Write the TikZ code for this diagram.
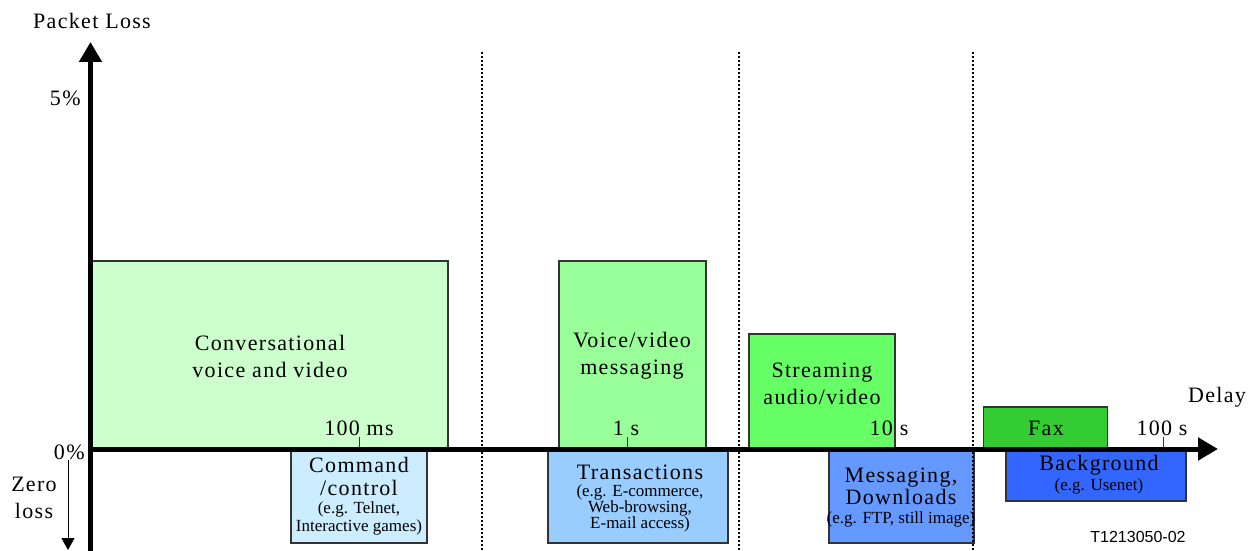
\documentclass[tikz,border=0pt]{standalone}
\usepackage{fontspec}
\setmainfont{Liberation Serif}
\newfontfamily\widef{Liberation Serif}[LetterSpace=6]
\newfontfamily\sansf{Liberation Sans}
\usetikzlibrary{arrows.meta}
\definecolor{cConv}{HTML}{CCFFCC}
\definecolor{cVoice}{HTML}{99FF99}
\definecolor{cStream}{HTML}{66FF66}
\definecolor{cFax}{HTML}{33CC33}
\definecolor{cCmd}{HTML}{CCECFF}
\definecolor{cTrans}{HTML}{99CCFF}
\definecolor{cMsg}{HTML}{6699FF}
\definecolor{cBack}{HTML}{3366FF}
\definecolor{cEdge}{HTML}{333333}
\begin{document}
\begin{tikzpicture}[x=0.5pt,y=-0.5pt,
  box/.style={draw=cEdge, line width=0.6pt, inner sep=0pt, anchor=center},
  big/.style={font=\widef\fontsize{11}{13.5}\selectfont, align=center, inner sep=0pt},
  small/.style={font=\fontsize{8.5}{8}\selectfont, align=center, inner sep=0pt},
  axis/.style={line width=2.5pt, -{Triangle[length=10pt,width=11pt]}},
  tickmark/.style={line width=0.5pt, draw=cEdge},
  sep/.style={line width=1pt, dash pattern=on 1pt off 1pt},
]
\useasboundingbox (0,0) rectangle (1259,551);

% boxes above the axis
\node[box, fill=cConv, minimum width=178pt, minimum height=94pt] (conv) at (270,355) {};
\node[box, fill=cVoice, minimum width=73.5pt, minimum height=94pt] (voice) at (632.5,355) {};
\node[box, fill=cStream, minimum width=73pt, minimum height=57.5pt] (stream) at (822,391.5) {};
\node[box, fill=cFax, minimum width=62pt, minimum height=21pt] (fax) at (1045.5,428) {};
% boxes below the axis
\node[box, fill=cCmd, minimum width=68pt, minimum height=46pt] (cmd) at (359,497) {};
\node[box, fill=cTrans, minimum width=90pt, minimum height=46pt] (trans) at (638,497) {};
\node[box, fill=cMsg, minimum width=72.5pt, minimum height=46pt] (msg) at (901.5,497) {};
\node[box, fill=cBack, minimum width=90pt, minimum height=25pt] (back) at (1096,476) {};

% separators
\coordinate (s1t) at (482,52); \coordinate (s1b) at (482,551);
\coordinate (s2t) at (739,52); \coordinate (s2b) at (739,551);
\coordinate (s3t) at (973,52); \coordinate (s3b) at (973,551);
\draw[sep] (s1t) -- (s1b);
\draw[sep] (s2t) -- (s2b);
\draw[sep] (s3t) -- (s3b);

% box texts
\node[big] (convt) at (270,356) {Conversational\\voice and video};
\node[big] (voicet) at (632,356) {Voice/video\\messaging};
\node[big] (streamt) at (822,383.5) {Streaming\\audio/video};
\node[big] (faxt) at (1046,428) {Fax};
\node[big, font=\widef\fontsize{11}{11.5}\selectfont] (cmdt) at (359,476) {Command\\/control};
\node[small, font=\fontsize{8.5}{6.8}\selectfont] (cmds) at (359,518.5) {(e.g. Telnet,\\Interactive games)};
\node[big] (transt) at (640,472) {Transactions};
\node[small] (transs) at (640,508.5) {(e.g. E-commerce,\\Web-browsing,\\E-mail access)};
\node[big, font=\widef\fontsize{11}{11}\selectfont] (msgt) at (901,486.5) {Messaging,\\Downloads};
\node[small] (msgs) at (901,519) {(e.g. FTP, still image)};
\node[big] (backt) at (1099,465) {Background};
\node[small] (backs) at (1099,486) {(e.g. Usenet)};

% ticks and tick labels
\coordinate (t1a) at (359,437); \coordinate (t1b) at (359,449);
\coordinate (t2a) at (627,437); \coordinate (t2b) at (627,449);
\coordinate (t3a) at (894,437); \coordinate (t3b) at (894,449);
\coordinate (t4a) at (1163,437); \coordinate (t4b) at (1163,449);
\draw[tickmark] (t1a) -- (t1b);
\draw[tickmark] (t2a) -- (t2b);
\draw[tickmark] (t3a) -- (t3b);
\draw[tickmark] (t4a) -- (t4b);
\node[big] (l1) at (359,428) {100 ms};
\node[big] (l2) at (626,428) {1 s};
\node[big] (l3) at (889,428) {10 s};
\node[big] (l4) at (1162,428) {100 s};

% axes
\coordinate (ybot) at (90.5,551);
\coordinate (ytop) at (90.5,42);
\coordinate (xl) at (88,449);
\coordinate (xr) at (1218,449);
\draw[axis] (ybot) -- (ytop);
\draw[axis] (xl) -- (xr);

% axis labels
\node[big] (ylab) at (92,21) {Packet Loss};
\node[big, anchor=east] (p5) at (81,98) {5\%};
\node[big, anchor=east] (p0) at (85,452) {0\%};
\node[big] (xlab) at (1217,397) {Delay};
\node[big] (zero) at (34,498) {Zero\\loss};
\coordinate (za) at (68,460);
\coordinate (zb) at (68,550);
\draw[line width=0.5pt, -{Triangle[length=6pt,width=6.5pt]}] (za) -- (zb);

\node[font=\sansf\fontsize{8}{9}\selectfont, inner sep=0pt] (ref) at (1138,537) {T1213050-02};
\end{tikzpicture}
\end{document}
